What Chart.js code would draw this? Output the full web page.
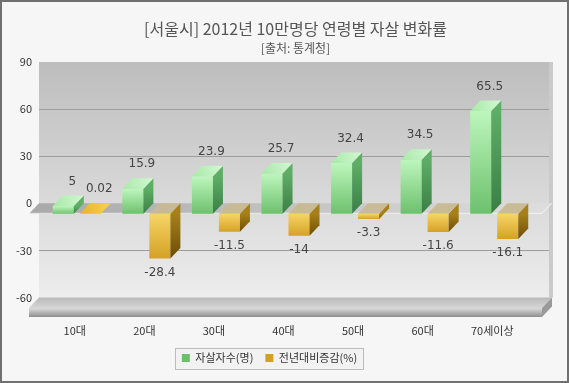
<!DOCTYPE html>
<html>
<head>
<meta charset="utf-8">
<script src="https://cdn.jsdelivr.net/npm/chart.js@4"></script>
<style>
  html, body { margin: 0; padding: 0; background: #f6f6f6; }
  #wrap { width: 569px; height: 383px; }
</style>
</head>
<body>
<div id="wrap"><canvas id="suicideChart" width="569" height="383"></canvas></div>
<script>
// data
const categories = ['10대', '20대', '30대', '40대', '50대', '60대', '70세이상'];
const suicides = [5, 15.9, 23.9, 25.7, 32.4, 34.5, 65.5];
const changeRates = [0.02, -28.4, -11.5, -14, -3.3, -11.6, -16.1];
const yMin = -60, yMax = 90, yStep = 30;

const FONT = "'Noto Sans CJK KR', 'Noto Sans', sans-serif";
const DX = 10, DY = 10.5;          // depth of the 3d look
const WALL_L = 39, WALL_R = 552;

const GREEN = { legend: '#8fec8f', light: '#bdf6bd', dark: '#6cc06c', sideTop: '#5eae66', sideBot: '#3a7d45', topA: '#a8e8a8', topB: '#d2f8d2' };
const GOLD = { legend: '#f2b705', light: '#f6d566', dark: '#d4a024', sideTop: '#a8801a', sideBot: '#6a4b04', topA: '#eab222', topB: '#f8d252' };

function frontFill(c) {
    return (context) => {
        if (context.type !== 'data') return c.legend;
        const chart = context.chart;
        const y = chart.scales.y;
        if (!y) return c.legend;
        const v = context.raw;
        const t = y.getPixelForValue(Math.max(v, 0));
        const b = y.getPixelForValue(Math.min(v, 0));
        if (!isFinite(t) || !isFinite(b)) return c.light;
        const g = chart.ctx.createLinearGradient(0, t, 0, b + 0.5);
        g.addColorStop(0, c.light);
        g.addColorStop(1, c.dark);
        return g;
    };
}

const scene = {
    id: 'scene',
    beforeDraw(chart) {
        const { ctx, chartArea: a } = chart;
        const y = chart.scales.y;
        ctx.save();
        ctx.fillStyle = '#f6f6f6';
        ctx.fillRect(0, 0, chart.width, chart.height);
        ctx.strokeStyle = '#707070';
        ctx.lineWidth = 2;
        ctx.strokeRect(1, 1, chart.width - 2, chart.height - 2);

        // back wall
        let g = ctx.createLinearGradient(0, a.top, 0, a.bottom);
        g.addColorStop(0, '#bdbdbd');
        g.addColorStop(1, '#ededed');
        ctx.fillStyle = g;
        ctx.fillRect(WALL_L, a.top, WALL_R - WALL_L, a.bottom - a.top);
        ctx.fillStyle = '#cacaca';
        ctx.fillRect(WALL_R - 3, a.top, 4, a.bottom - a.top);

        // grid lines on the wall
        ctx.strokeStyle = '#9c9c9c';
        ctx.lineWidth = 1;
        y.ticks.forEach(t => {
            if (t.value === yMin || t.value === yMax || t.value === 0) return;
            const py = Math.round(y.getPixelForValue(t.value)) + 0.5;
            ctx.beginPath();
            ctx.moveTo(WALL_L, py);
            ctx.lineTo(WALL_R - 3, py);
            ctx.stroke();
        });

        // floor slab
        const fb = a.bottom;
        g = ctx.createLinearGradient(0, fb, 0, fb + DY);
        g.addColorStop(0, '#b9b9b9');
        g.addColorStop(1, '#d6d6d6');
        ctx.fillStyle = g;
        ctx.beginPath();
        ctx.moveTo(WALL_L, fb);
        ctx.lineTo(WALL_R, fb);
        ctx.lineTo(WALL_R - DX, fb + DY);
        ctx.lineTo(WALL_L - DX, fb + DY);
        ctx.closePath();
        ctx.fill();
        g = ctx.createLinearGradient(0, fb + DY, 0, fb + DY + 9);
        g.addColorStop(0, '#dcdcdc');
        g.addColorStop(1, '#8e8e8e');
        ctx.fillStyle = g;
        ctx.fillRect(WALL_L - DX, fb + DY, WALL_R - WALL_L, 9);
        ctx.fillStyle = '#9a9a9a';
        ctx.beginPath();
        ctx.moveTo(WALL_R, fb);
        ctx.lineTo(WALL_R - DX, fb + DY);
        ctx.lineTo(WALL_R - DX, fb + DY + 9);
        ctx.lineTo(WALL_R, fb + 9);
        ctx.closePath();
        ctx.fill();

        // zero shelf
        const z = y.getPixelForValue(0);
        g = ctx.createLinearGradient(WALL_L, 0, WALL_R, 0);
        g.addColorStop(0, '#a9a9a9');
        g.addColorStop(1, '#dedede');
        ctx.fillStyle = g;
        ctx.beginPath();
        ctx.moveTo(WALL_L, z);
        ctx.lineTo(WALL_R, z);
        ctx.lineTo(WALL_R - DX, z + DY);
        ctx.lineTo(WALL_L - DX, z + DY);
        ctx.closePath();
        ctx.fill();
        ctx.strokeStyle = 'rgba(255,255,255,0.7)';
        ctx.beginPath();
        ctx.moveTo(WALL_L - DX, z + DY - 0.5);
        ctx.lineTo(WALL_R - DX, z + DY - 0.5);
        ctx.lineTo(WALL_R, z);
        ctx.stroke();

        // legend frame
        const hb = chart.legend.legendHitBoxes;
        if (hb && hb.length) {
            const last = hb[hb.length - 1];
            const l = hb[0].left - 7, r = last.left + last.width + 6;
            const cy = hb[0].top + hb[0].height / 2;
            ctx.fillStyle = '#f2f2f2';
            ctx.fillRect(l, cy - 10.5, r - l, 21);
            ctx.strokeStyle = '#bcbcbc';
            ctx.lineWidth = 1;
            ctx.strokeRect(Math.round(l) + 0.5, Math.round(cy - 10.5) + 0.5, Math.round(r - l), 21);
        }
        ctx.restore();
    },
    beforeDatasetDraw(chart) {
        chart.ctx.save();
        chart.ctx.translate(-DX, DY);
    },
    afterDatasetDraw(chart, args) {
        const ctx = chart.ctx;
        const c = args.index === 0 ? GREEN : GOLD;
        const values = chart.data.datasets[args.index].data;
        args.meta.data.forEach((el, i) => {
            const { x, y, base, width } = el.getProps(['x', 'y', 'base', 'width'], true);
            const L = x - width / 2, R = x + width / 2;
            const top = Math.min(y, base), bot = Math.max(y, base);
            const v = values[i];

            // side face
            let g = ctx.createLinearGradient(0, top, 0, bot + 1);
            g.addColorStop(0, c.sideTop);
            g.addColorStop(1, c.sideBot);
            ctx.fillStyle = g;
            ctx.beginPath();
            ctx.moveTo(R, top);
            ctx.lineTo(R + DX, top - DY);
            ctx.lineTo(R + DX, bot - DY);
            ctx.lineTo(R, bot);
            ctx.closePath();
            ctx.fill();

            // top face
            if (v >= 0) {
                g = ctx.createLinearGradient(L, top, R + DX, top - DY);
                g.addColorStop(0, c.topA);
                g.addColorStop(1, c.topB);
                ctx.fillStyle = g;
            } else {
                ctx.fillStyle = 'rgba(200,185,148,0.95)';
            }
            ctx.beginPath();
            ctx.moveTo(L, top);
            ctx.lineTo(R, top);
            ctx.lineTo(R + DX, top - DY);
            ctx.lineTo(L + DX, top - DY);
            ctx.closePath();
            ctx.fill();

            // value label
            ctx.fillStyle = '#444';
            ctx.font = "12px 'DejaVu Sans', sans-serif";
            ctx.textAlign = 'center';
            ctx.textBaseline = 'middle';
            if (v >= 0) ctx.fillText(String(v), x + 9, y - 24.5);
            else ctx.fillText(String(v), x, y + 14);
        });
        ctx.restore();
    }
};

const ctx = document.getElementById('suicideChart').getContext('2d');
const chart = new Chart(ctx, {
    type: 'bar',
    data: {
        labels: categories,
        datasets: [
            {
                label: '자살자수(명)',
                data: suicides,
                backgroundColor: frontFill(GREEN),
                borderWidth: 0,
                categoryPercentage: 0.776,
                barPercentage: 0.78
            },
            {
                label: '전년대비증감(%)',
                data: changeRates,
                backgroundColor: frontFill(GOLD),
                borderWidth: 0,
                categoryPercentage: 0.776,
                barPercentage: 0.78
            }
        ]
    },
    options: {
        responsive: false,
        animation: false,
        events: [],
        layout: { padding: { left: 0, right: 30, top: 0, bottom: 9.5 } },
        scales: {
            x: {
                grid: { display: false, drawTicks: false },
                border: { display: false },
                ticks: { padding: 27, labelOffset: -12, color: '#333', font: { family: FONT, size: 11 } },
                afterFit(s) { s.height = 43; }
            },
            y: {
                min: yMin,
                max: yMax,
                grid: { display: false, drawTicks: false },
                border: { display: false },
                ticks: { stepSize: yStep, padding: 20, color: '#333', font: { family: FONT, size: 11 } },
                afterFit(s) { s.width = 52; }
            }
        },
        plugins: {
            title: {
                display: true,
                text: '[서울시] 2012년 10만명당 연령별 자살 변화률',
                color: '#555',
                fullSize: false,
                font: { family: FONT, size: 16, weight: 'normal' },
                padding: { top: 19, bottom: 3 }
            },
            subtitle: {
                display: true,
                text: '[출처: 통계청]',
                color: '#555',
                fullSize: false,
                font: { family: FONT, size: 12, weight: 'normal' },
                padding: { top: 0, bottom: 6.4 }
            },
            legend: {
                position: 'bottom',
                labels: { boxWidth: 8, boxHeight: 8, padding: 12, color: '#333', font: { family: FONT, size: 11 } }
            },
            tooltip: { enabled: false }
        }
    },
    plugins: [scene]
});
</script>
</body>
</html>
